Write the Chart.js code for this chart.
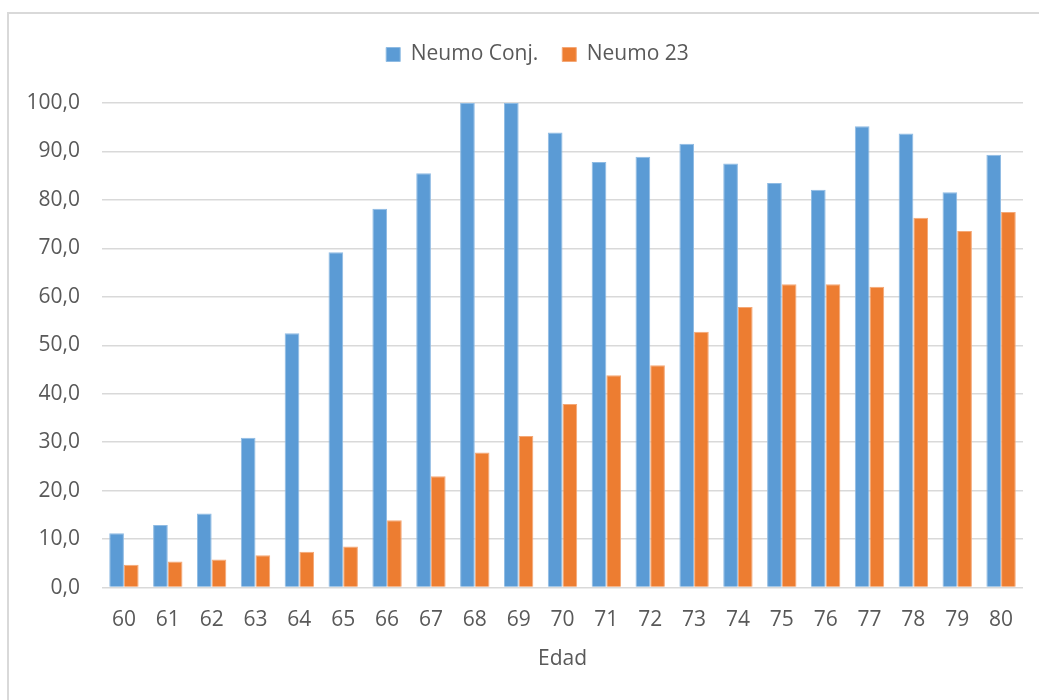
<!DOCTYPE html>
<html>
<head>
<meta charset="utf-8">
<script src="https://cdn.jsdelivr.net/npm/chart.js@4"></script>
<style>
  html, body { margin: 0; padding: 0; background: #fff; }
  #wrap { position: relative; width: 1039px; height: 700px; overflow: hidden; }
  #frame { position: absolute; left: 7px; top: 12px; width: 1100px; height: 800px;
           border: 2px solid #d9d9d9; box-sizing: border-box; }
  canvas { position: absolute; left: 0; top: 0; }
</style>
</head>
<body>
<div id="wrap">
  <div id="frame"></div>
  <canvas id="chart" width="1039" height="700"></canvas>
</div>
<script>
// Edad (age) categories
const edades = ['60','61','62','63','64','65','66','67','68','69','70',
                '71','72','73','74','75','76','77','78','79','80'];

// Coverage (%) per age for each vaccine
const neumoConj = [11.2, 12.9, 15.3, 30.9, 52.5, 69.2, 78.2, 85.5, 100.0, 100.0, 93.9,
                   87.8, 88.9, 91.6, 87.5, 83.5, 82.1, 95.2, 93.7, 81.6, 89.3];
const neumo23   = [4.7, 5.4, 5.8, 6.7, 7.4, 8.5, 13.9, 23.0, 27.9, 31.3, 37.9,
                   43.8, 45.9, 52.8, 57.9, 62.6, 62.6, 62.1, 76.3, 73.6, 77.5];

const serieNombres = ['Neumo Conj.', 'Neumo 23'];
const ejeX = 'Edad';

const TEXT = '#595959';
const FONT = "'Open Sans', 'Noto Sans', sans-serif";
const SIZE = 21;

// Fixed legend band height, and the legend centred over the plot area
const legendBand = {
  id: 'legendBand',
  beforeInit(chart) {
    const fit = chart.legend.fit;
    chart.legend.fit = function () {
      fit.call(this);
      this.height = 83;
    };
  },
  afterLayout(chart) {
    const lg = chart.legend;
    lg.left += 26;
    lg.right += 26;
  }
};

new Chart(document.getElementById('chart'), {
  type: 'bar',
  data: {
    labels: edades,
    datasets: [
      { label: serieNombres[0], data: neumoConj, backgroundColor: '#5b9bd5',
        borderColor: '#8fbbe3', borderWidth: 1 },
      { label: serieNombres[1], data: neumo23, backgroundColor: '#ed7d31',
        borderColor: '#f4a877', borderWidth: 1 }
    ]
  },
  options: {
    responsive: false,
    animation: false,
    devicePixelRatio: 1,
    layout: { padding: { top: 20, right: 16, left: 0, bottom: 28 } },
    datasets: { bar: { categoryPercentage: 0.67, barPercentage: 1.0 } },
    plugins: {
      tooltip: { enabled: false },
      legend: {
        position: 'top',
        labels: {
          color: TEXT,
          font: { family: FONT, size: SIZE },
          boxWidth: 14,
          boxHeight: 14,
          padding: 24
        }
      }
    },
    scales: {
      x: {
        grid: { display: false },
        border: { display: false },
        ticks: { color: TEXT, font: { family: FONT, size: SIZE }, padding: 12, maxRotation: 0 },
        title: { display: true, text: ejeX, color: TEXT, font: { family: FONT, size: SIZE }, padding: { top: 2, bottom: 0 } }
      },
      y: {
        min: 0,
        max: 100,
        afterFit(scale) { scale.width = 102; },
        grid: { color: '#d9d9d9', lineWidth: 1.5, drawTicks: false },
        border: { display: false },
        ticks: {
          stepSize: 10,
          color: TEXT,
          font: { family: FONT, size: SIZE },
          padding: 22,
          callback: v => v.toFixed(1).replace('.', ',')
        }
      }
    }
  },
  plugins: [legendBand]
});
</script>
</body>
</html>
